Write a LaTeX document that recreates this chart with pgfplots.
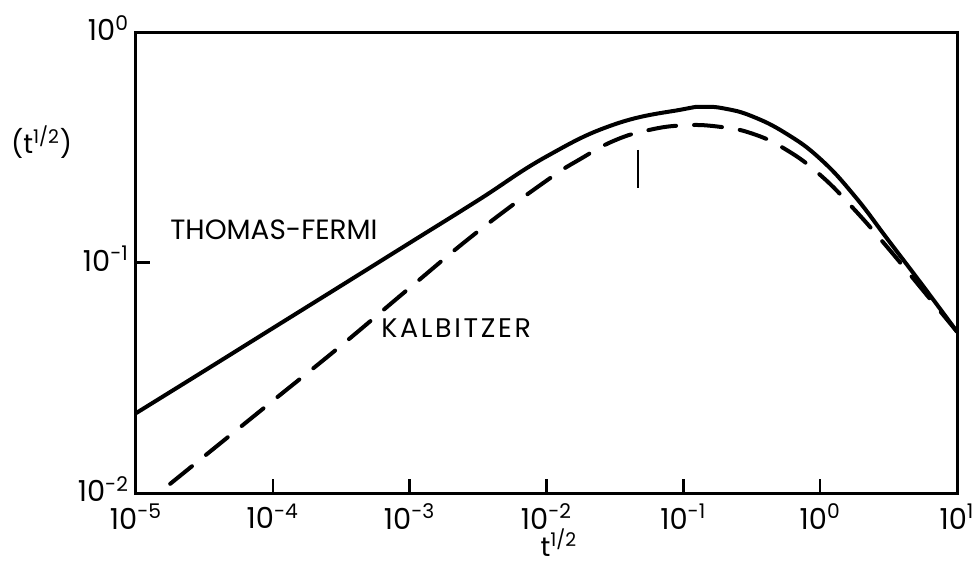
\documentclass[border=0pt]{standalone}
\usepackage{fontspec}
\setmainfont{Poppins}
\usepackage{pgfplots}
\pgfplotsset{compat=1.18}
\begin{document}
\begin{tikzpicture}
\useasboundingbox (0,0) rectangle (487.5bp,282.5bp);
\begin{axis}[
  at={(68bp,36bp)}, anchor=south west,
  scale only axis, width=410.5bp, height=230.5bp,
  xmode=log, ymode=log,
  xmin=1e-5, xmax=10, ymin=1e-2, ymax=1,
  xminorticks=false, yminorticks=false,
  xtick={1e-5,1e-4,1e-3,1e-2,1e-1,1,10},
  xticklabels={10\textsuperscript{-5},10\textsuperscript{-4},10\textsuperscript{-3},10\textsuperscript{-2},10\textsuperscript{-1},10\textsuperscript{0},10\textsuperscript{1}},
  ytick={1e-2,1e-1,1},
  yticklabels={10\textsuperscript{-2},10\textsuperscript{-1},10\textsuperscript{0}},
  tick pos=left, tick align=inside,
  major tick length=7bp,
  major tick style={line width=1.2bp, black},
  axis line style={line width=1.5bp},
  tick label style={font=\fontsize{14.5}{16}\selectfont},
  xticklabel style={yshift=-2bp},
  yticklabel style={yshift=2bp},
  xlabel={t\textsuperscript{1/2}},
  ylabel={(t\textsuperscript{1/2})},
  label style={font=\fontsize{13.5}{16}\selectfont},
  xlabel style={at={(rel axis cs:0.515,-0.108)}, anchor=center},
  ylabel style={at={(rel axis cs:-0.115,0.761)}, anchor=center, rotate=-90},
]
% THOMAS-FERMI (solid)
\addplot[black, line width=2bp, smooth, tension=0.75] coordinates {
(1e-5,0.0222) (3.162e-5,0.0339) (1e-4,0.0519) (3.162e-4,0.0794) (1e-3,0.1216)
(3.162e-3,0.1862) (0.01,0.2884) (0.03162,0.3981) (0.1,0.4624) (0.1413,0.4732)
(0.1995,0.4656) (0.3162,0.4315) (0.5623,0.3631) (1,0.2818) (1.778,0.1950)
(3.162,0.1245) (5.623,0.0794) (10,0.0501)
};
% KALBITZER (dashed)
\addplot[black, line width=2bp, smooth, tension=0.75, line cap=round, dash pattern=on 14bp off 9bp] coordinates {
(1.778e-5,0.01096) (3.162e-5,0.01445) (1e-4,0.02512) (3.162e-4,0.04365) (1e-3,0.07762)
(3.162e-3,0.1365) (0.01,0.2265) (0.01778,0.2818) (0.03162,0.3388) (0.05623,0.3758)
(0.1,0.3936) (0.1778,0.3890) (0.3162,0.3631) (0.5623,0.3090) (1,0.2399)
(1.778,0.1698) (3.162,0.1148) (5.623,0.0759) (10,0.0501)
};
\draw[line width=1bp] (axis cs:0.047,0.308) -- (axis cs:0.047,0.21);
\node[font=\fontsize{14}{16}\selectfont] at (rel axis cs:0.168,0.5705) {THOMAS-FERMI};
\node[font=\fontsize{13.5}{16}\selectfont\addfontfeatures{LetterSpace=10}] at (rel axis cs:0.390,0.358) {KALBITZER};
\end{axis}
\end{tikzpicture}
\end{document}
